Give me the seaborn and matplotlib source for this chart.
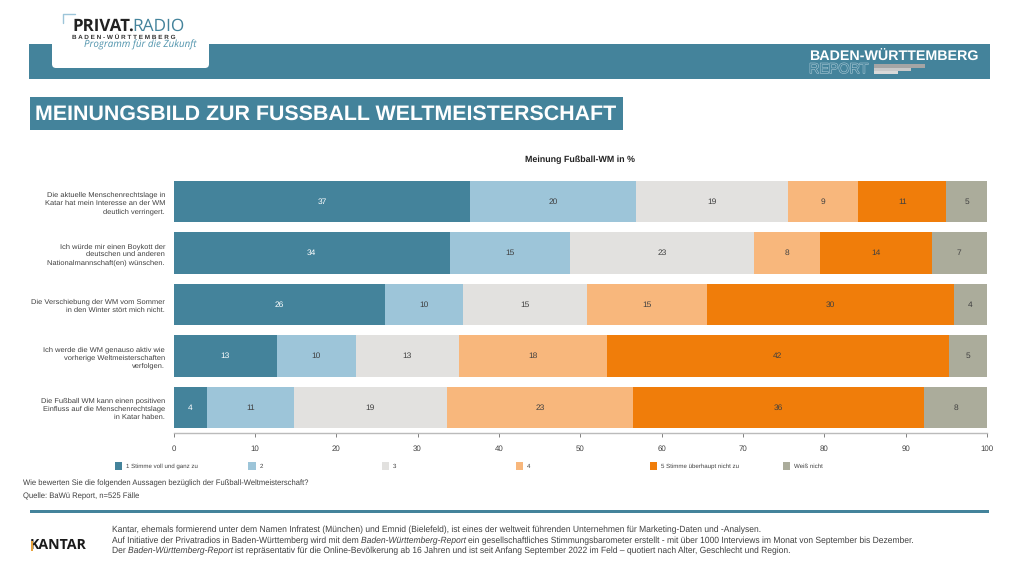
import seaborn as sns
import matplotlib
matplotlib.use('Agg')
import matplotlib.pyplot as plt
from matplotlib.patches import Rectangle, FancyBboxPatch
import matplotlib.patheffects as pe
import numpy as np

sns.set_theme(style='white')
plt.rcParams['font.family'] = ['Liberation Sans', 'DejaVu Sans']
plt.rcParams['text.hinting'] = 'no_hinting'

aussagen = [
    'Die aktuelle Menschenrechtslage in\nKatar hat mein Interesse an der WM\ndeutlich verringert.',
    'Ich würde mir einen Boykott der\ndeutschen und anderen\nNationalmannschaft(en) wünschen.',
    'Die Verschiebung der WM vom Sommer\nin den Winter stört mich nicht.',
    'Ich werde die WM genauso aktiv wie\nvorherige Weltmeisterschaften\nverfolgen.',
    'Die Fußball WM kann einen positiven\nEinfluss auf die Menschenrechtslage\nin Katar haben.',
]
stufen = ['1 Stimme voll und ganz zu', '2', '3', '4', '5 Stimme überhaupt nicht zu', 'Weiß nicht']
stufe1 = [36.5, 34.0, 26.0, 12.7, 4.1]
stufe2 = [20.4, 14.7, 9.6, 9.7, 10.7]
stufe3 = [18.6, 22.7, 15.2, 12.7, 18.8]
stufe4 = [8.7, 8.1, 14.8, 18.2, 22.9]
stufe5 = [10.8, 13.7, 30.3, 42.0, 35.8]
weiss_nicht = [5.0, 6.8, 4.1, 4.7, 7.7]
labels1 = ['37', '34', '26', '13', '4']
labels2 = ['20', '15', '10', '10', '11']
labels3 = ['19', '23', '15', '13', '19']
labels4 = ['9', '8', '15', '18', '23']
labels5 = ['11', '14', '30', '42', '36']
labels6 = ['5', '7', '4', '5', '8']

farben = ['#44839B', '#9DC5D9', '#E2E1DF', '#F8B77C', '#F07D0A', '#ABAC9B']
teal = '#44839B'
textgrau = '#404040'

fig = plt.figure(figsize=(10.19, 5.73), dpi=100)

# Hintergrund in Pixelkoordinaten
bg = fig.add_axes([0, 0, 1, 1])
bg.set_xlim(0, 1019)
bg.set_ylim(573, 0)
bg.axis('off')

bg.add_patch(Rectangle((29.5, 44), 960.5, 34.5, color=teal, lw=0))
bg.add_patch(FancyBboxPatch((52, -10), 157, 78, boxstyle='round,pad=0,rounding_size=4', fc='white', ec='none'))
bg.plot([63.5, 63.5, 75], [23, 13.5, 13.5], color='#9DC5D9', lw=1)
bg.text(72, 30.5, 'PRIVAT.', fontsize=12.2, fontweight='bold', color='#222222', family='Open Sans', va='baseline')
bg.text(132, 30.5, 'RADIO', fontsize=12.4, color=teal, family='Open Sans', va='baseline')
bg.text(72, 38.5, 'B A D E N - W Ü R T T E M B E R G', fontsize=4.6, fontweight='bold', color='#333333', va='baseline')
bg.text(84, 47.5, 'Programm für die Zukunft', fontsize=7.0, style='italic', color='#4F93AC', family='Open Sans', va='baseline')

bg.text(809, 57, 'BADEN-WÜRTTEMBERG', fontsize=10.3, fontweight='bold', color='white', va='center')
bg.text(809, 69.5, 'REPORT', fontsize=10.3, color='#44839B', va='center',
        path_effects=[pe.withStroke(linewidth=0.8, foreground='#A9C9D6')])
bg.add_patch(Rectangle((874, 64), 51, 3.5, color='#A5A5A5', lw=0))
bg.add_patch(Rectangle((874, 67.5), 37, 3, color='#C8C8C8', lw=0))
bg.add_patch(Rectangle((874, 70.5), 24, 3.5, color='#D9D9D9', lw=0))

bg.add_patch(Rectangle((30, 97), 593, 32.5, color=teal, lw=0))
bg.text(35, 114, 'MEINUNGSBILD ZUR FUSSBALL WELTMEISTERSCHAFT', fontsize=15.4, fontweight='bold', color='white', va='center')

bg.text(580, 159.5, 'Meinung Fußball-WM in %', fontsize=6.4, fontweight='bold', color='#222222', ha='center', va='center')

# Balken
ax = fig.add_axes([173.5 / 1019, 1 - 433.2 / 573, (987 - 173.5) / 1019, 257.5 / 573])
ax.patch.set_alpha(0)
reihen = [stufe1, stufe2, stufe3, stufe4, stufe5, weiss_nicht]
beschriftung = [labels1, labels2, labels3, labels4, labels5, labels6]
links = np.zeros(len(aussagen))
for i, werte in enumerate(reihen):
    sns.barplot(x=werte, y=aussagen, orient='h', left=links, color=farben[i], saturation=1, width=0.806,
                linewidth=0, ax=ax)
    ax.bar_label(ax.containers[-1], labels=beschriftung[i], label_type='center', fontsize=6,
                 color='white' if i == 0 else textgrau)
    links = links + np.array(werte)

ax.set_xlim(0, 100)
ax.set_ylim(4.5, -0.5)
ax.set_xticks(range(0, 101, 10))
ax.tick_params(axis='x', length=3, width=0.7, color='#808080', labelsize=5.7, labelcolor=textgrau, pad=5.5, bottom=True)
ax.tick_params(axis='y', length=0, labelsize=5.4, labelcolor=textgrau, pad=6.1)
for lbl in ax.get_yticklabels():
    lbl.set_linespacing(1.35)
sns.despine(ax=ax, left=True)
ax.spines['bottom'].set_color('#BBBBBB')
ax.spines['bottom'].set_linewidth(1)
ax.grid(False)

# Legende
legende_x = [115, 248.5, 382, 516, 650, 783]
for x, name, farbe in zip(legende_x, stufen, farben):
    bg.add_patch(Rectangle((x, 462), 7.5, 7.5, color=farbe, lw=0))
    bg.text(x + 11, 466.5, name, fontsize=4.4, color=textgrau, va='center')

bg.text(23, 483, 'Wie bewerten Sie die folgenden Aussagen bezüglich der Fußball-Weltmeisterschaft?', fontsize=5.53, color=textgrau, va='center')
bg.text(23, 496, 'Quelle: BaWü Report, n=525 Fälle', fontsize=5.5, color=textgrau, va='center')

bg.add_patch(Rectangle((30, 510), 959.5, 3, color=teal, lw=0))

bg.text(30, 545.5, 'KANTAR', fontsize=10.2, fontweight='bold', color='#1A1A1A', va='center', family='Open Sans')
bg.add_patch(Rectangle((31, 541), 1.6, 9.5, color='#E8A33D', lw=0, zorder=5))


# Fusszeile mit kursiven Stuecken
def zeile(x, y, stuecke):
    fig.canvas.draw()
    r = fig.canvas.get_renderer()
    for s, stil in stuecke:
        t = bg.text(x, y, s, fontsize=6.16, style=stil, color=textgrau, va='center')
        x = x + t.get_window_extent(r).width


zeile(112, 530, [('Kantar, ehemals formierend unter dem Namen Infratest (München) und Emnid (Bielefeld), ist eines der weltweit führenden Unternehmen für Marketing-Daten und -Analysen.', 'normal')])
zeile(112, 540.5, [('Auf Initiative der Privatradios in Baden-Württemberg wird mit dem ', 'normal'), ('Baden-Württemberg-Report ', 'italic'),
                   ('ein gesellschaftliches Stimmungsbarometer erstellt - mit über 1000 Interviews im Monat von September bis Dezember.', 'normal')])
zeile(112, 551, [('Der ', 'normal'), ('Baden-Württemberg-Report ', 'italic'),
                 ('ist repräsentativ für die Online-Bevölkerung ab 16 Jahren und ist seit Anfang September 2022 im Feld – quotiert nach Alter, Geschlecht und Region.', 'normal')])

fig.savefig('out.png', dpi=100, facecolor='white')
